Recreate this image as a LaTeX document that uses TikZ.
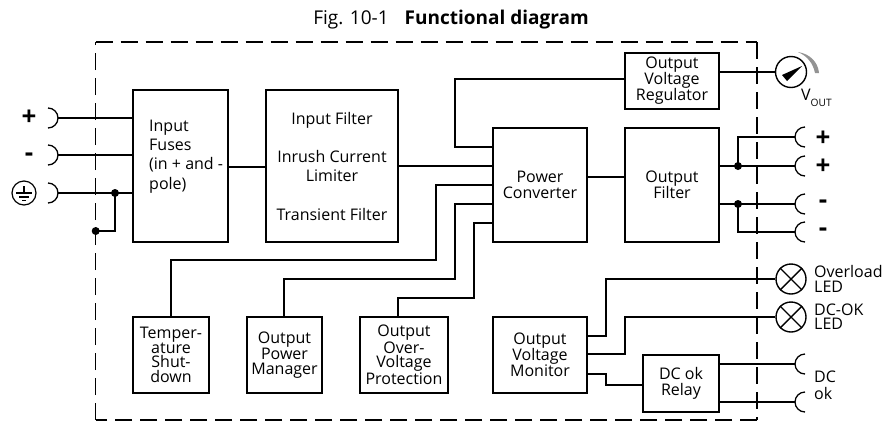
\documentclass[tikz,border=0pt]{standalone}
\usepackage{fontspec}
\setmainfont{Open Sans}
\usetikzlibrary{calc}
\newcommand{\tf}{\fontsize{16}{16}\selectfont}
\newcommand{\tfs}{\fontsize{16}{14.5}\selectfont}
\newcommand{\tfw}{\fontsize{16}{19.2}\selectfont}
\tikzset{
  wire/.style={line width=1.2pt},
  boxn/.style={draw,line width=1.3pt,inner sep=0pt,align=center,font=\tf},
  lab/.style={inner sep=0pt,align=center,font=\tf},
  labw/.style={inner sep=0pt,align=center,font=\tfw},
  labl/.style={inner sep=0pt,align=left,anchor=west,font=\tf},
  sign/.style={inner sep=0pt,font=\fontsize{26}{26}\selectfont\bfseries},
  dotn/.style={circle,fill=black,inner sep=0pt,minimum size=8pt},
  dial/.style={circle,draw,line width=1.4pt,inner sep=0pt,minimum size=31pt},
  lamp/.style={circle,draw,line width=1.4pt,inner sep=0pt,minimum size=30pt},
  frame/.style={line width=1.3pt,dash pattern=on 17pt off 8pt},
  sock/.style={line width=1.3pt}
}
\newcommand{\mkbox}[7][]{\node[boxn,#1,minimum width=#5pt-#3pt,minimum height=#6pt-#4pt] (#2) at ({(#3+#5)/2},{(#4+#6)/2}) {#7};}
\newcommand{\sockL}[1]{\draw[sock] ([shift={(0,-10)}]#1) arc[start angle=90,end angle=-90,radius=10pt];}
\newcommand{\sockR}[1]{\draw[sock] ([shift={(0,-10)}]#1) arc[start angle=90,end angle=270,radius=10pt];}
\begin{document}
\begin{tikzpicture}[x=1pt,y=-1pt]
\useasboundingbox (0,0) rectangle (885,421);
% frame
\coordinate (fa) at (95.7,42);
\coordinate (fb) at (757,42);
\coordinate (fc) at (757,420);
\coordinate (fd) at (95.7,420);
\draw[frame] (fa) -- (fb);
\draw[frame] (fb) -- (fc);
\draw[frame] (fc) -- (fd);
\draw[frame] (fd) -- (fa);
% title
\node[inner sep=0pt,font=\fontsize{19}{20}\selectfont] (title) at (451,20) {Fig. 10-1\hspace{16pt}\textbf{Functional diagram}};
% boxes
\mkbox{fuses}{133}{90}{228}{242}{}
\mkbox{inrush}{266}{90}{398}{242}{}
\mkbox{conv}{493}{128}{587}{242}{Power\\Converter}
\mkbox{filt}{625}{128}{719}{242}{Output\\Filter}
\mkbox{reg}{625}{53}{719}{109}{Output\\Voltage\\Regulator}
\mkbox[font=\tfs]{temp}{133}{317}{209}{393}{Temper-\\ature\\Shut-\\down}
\mkbox[font=\tfs]{pman}{247}{317}{322}{393}{Output\\Power\\Manager}
\mkbox[font=\tfs]{ovp}{360}{317}{448}{393}{Output\\Over-\\Voltage\\Protection}
\mkbox{mon}{493}{317}{587}{393}{Output\\Voltage\\Monitor}
\mkbox{rel}{643}{355}{719}{412}{DC ok\\Relay}
% multi-line texts
\node[labl,font=\tfw] (fusetxt) at (149,156.5) {Input\\Fuses\\(in + and -\\pole)};
\node[labw] (inrushtxt) at (332,166) {Input Filter\\[19.2pt]Inrush Current\\Limiter\\[19.2pt]Transient Filter};
% input sockets
\coordinate (in1) at (48,118);
\coordinate (in2) at (48,155);
\coordinate (in3) at (48,193);
\sockL{in1}\sockL{in2}\sockL{in3}
\node[sign] (pl) at (29,118) {+};
\node[sign] (mi) at (29,157) {-};
\node[circle,draw,line width=1.2pt,minimum size=24pt,inner sep=0pt] (earth) at (24,193) {};
\draw[line width=1.1pt] (earth.center) ++(0,-7) -- ++(0,7) ++(-8,0) -- ++(16,0) ++(-13,4) -- ++(10,0) ++(-7,3.5) -- ++(4,0);
\draw[wire] ($(in1)+(10,0)$) -- (fuses.west |- in1);
\draw[wire] ($(in2)+(10,0)$) -- (fuses.west |- in2);
\draw[wire] ($(in3)+(10,0)$) -- (fuses.west |- in3);
\node[dotn] (j1) at (115,193) {};
\node[dotn] (j2) at (95.7,231) {};
\draw[wire] (j1.center) -- (j1.center |- j2.center) -- (j2.center);
% main chain
\coordinate (w1) at (0,167);
\coordinate (w2) at (0,166);
\coordinate (w3) at (0,177);
\draw[wire] (fuses.east |- w1) -- (inrush.west |- w1);
\draw[wire] (inrush.east |- w2) -- (conv.west |- w2);
\draw[wire] (conv.east |- w3) -- (filt.west |- w3);
% regulator
\coordinate (r1) at (455,147);
\coordinate (r2) at (455,79);
\draw[wire] (conv.west |- r1) -- (r1) -- (r2) -- (reg.west |- r2);
% temp etc.
\coordinate (t1) at (436,185);
\coordinate (t2) at (436,260);
\coordinate (t3) at (171,260);
\draw[wire] (conv.west |- t1) -- (t1) -- (t2) -- (t3) -- (t3 |- temp.north);
\coordinate (p1) at (455,204);
\coordinate (p2) at (455,279);
\coordinate (p3) at (284,279);
\draw[wire] (conv.west |- p1) -- (p1) -- (p2) -- (p3) -- (p3 |- pman.north);
\coordinate (o1) at (474,223);
\coordinate (o2) at (474,298);
\coordinate (o3) at (398,298);
\draw[wire] (conv.west |- o1) -- (o1) -- (o2) -- (o3) -- (o3 |- ovp.north);
% gauge
\node[dial] (gauge) at (791,72) {};
\draw[wire] (reg.east |- gauge) -- (gauge);
\fill (802,66) -- (782,75) -- (787,81) -- cycle;
\fill[gray!85] (798,52) .. controls (810,54) and (818,62) .. (819,73) -- (815,73) .. controls (813,63) and (807,56) .. (798,52) -- cycle;
\node[inner sep=0pt,anchor=base west,font=\tf] (vout) at (801,100) {V\raisebox{-6pt}{\fontsize{10.2}{10}\selectfont OUT}};
% output sockets
\coordinate (s1) at (805,137);
\coordinate (s2) at (805,166);
\coordinate (s3) at (805,204);
\coordinate (s4) at (805,232);
\sockR{s1}\sockR{s2}\sockR{s3}\sockR{s4}
\node[sign] (sp1) at (823,139) {+};
\node[sign] (sp2) at (823,167) {+};
\node[sign] (sm1) at (823,204) {-};
\node[sign] (sm2) at (823,232) {-};
\node[dotn] (j3) at (738,166) {};
\node[dotn] (j4) at (738,204) {};
\draw[wire] (filt.east |- j3) -- ($(s2)+(-10,0)$);
\draw[wire] (filt.east |- j4) -- ($(s3)+(-10,0)$);
\draw[wire] (j3.center) -- (j3.center |- s1) -- ($(s1)+(-10,0)$);
\draw[wire] (j4.center) -- (j4.center |- s4) -- ($(s4)+(-10,0)$);
% LEDs
\node[lamp] (led1) at (791,279) {};
\node[lamp] (led2) at (791,317) {};
\foreach \l in {led1,led2}{
  \draw[line width=1.4pt] (\l.45) -- (\l.225) (\l.135) -- (\l.315);
}
\node[labl,font=\fontsize{16}{15}\selectfont] (t1a) at (814,278.5) {Overload\\LED};
\node[labl,font=\fontsize{16}{14.5}\selectfont] (t2a) at (814,316.5) {DC-OK\\LED};
% monitor
\coordinate (m1) at (606,336);
\coordinate (m2) at (625,354);
\coordinate (m3) at (606,374);
\draw[wire] (mon.east |- m1) -- (m1) -- (m1 |- led1) -- (led1);
\draw[wire] (mon.east |- m2) -- (m2) -- (m2 |- led2) -- (led2);
\coordinate (m4) at (606,385);
\draw[wire] (mon.east |- m3) -- (m3) -- (m4) -- (rel.west |- m4);
% relay
\coordinate (s5) at (805,364);
\coordinate (s6) at (805,402);
\sockR{s5}\sockR{s6}
\draw[wire] (rel.east |- s5) -- ($(s5)+(-10,0)$);
\draw[wire] (rel.east |- s6) -- ($(s6)+(-10,0)$);
\node[labl,font=\fontsize{16}{17}\selectfont] (dctxt) at (814,385.5) {DC\\ok};
\end{tikzpicture}
\end{document}
